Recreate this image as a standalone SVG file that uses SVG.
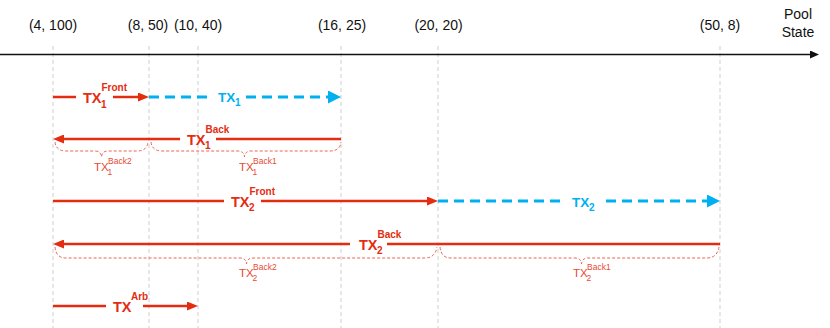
<svg xmlns="http://www.w3.org/2000/svg" width="830" height="328" viewBox="0 0 830 328">
<style>
.guide{stroke:#CFCFCF;stroke-width:1;stroke-dasharray:4 3;fill:none}
.axis{stroke:#111;stroke-width:1.5;fill:none}
.red{stroke:#E42C10;stroke-width:2.5;fill:none}
.blue{stroke:#00B0F0;stroke-width:3;fill:none;stroke-dasharray:10 6}
.brace{stroke:#EE6450;stroke-width:1;fill:none;stroke-dasharray:3 2}
.coord{font-family:"Liberation Sans",Arial,sans-serif;font-size:14px;fill:#111;text-anchor:middle}
.lr{font-family:"Liberation Sans",Arial,sans-serif;font-weight:bold;font-size:14.5px;fill:#E42C10}
.lb{font-family:"Liberation Sans",Arial,sans-serif;font-weight:bold;font-size:13.5px;fill:#00B0F0}
.sm{font-size:10px}
.bl{font-family:"Liberation Sans",Arial,sans-serif;font-size:11.5px;fill:#E84A32}
.bs{font-size:8.5px}
</style>
<defs>
<marker id="ar" markerUnits="userSpaceOnUse" markerWidth="11" markerHeight="9" refX="3" refY="4.5" orient="auto"><path d="M0,0 L11,4.5 L0,9 z" fill="#E42C10"/></marker>
<marker id="ab" markerUnits="userSpaceOnUse" markerWidth="13" markerHeight="13" refX="3" refY="6.5" orient="auto"><path d="M0,0 L13,6.5 L0,13 z" fill="#00B0F0"/></marker>
<marker id="ak" markerUnits="userSpaceOnUse" markerWidth="9" markerHeight="8" refX="2" refY="4" orient="auto"><path d="M0,0 L9,4 L0,8 z" fill="#111"/></marker>
</defs>
<g id="guides">
<line class="guide" x1="53" y1="46" x2="53" y2="328"/>
<line class="guide" x1="149" y1="46" x2="149" y2="328"/>
<line class="guide" x1="198" y1="46" x2="198" y2="328"/>
<line class="guide" x1="341" y1="46" x2="341" y2="328"/>
<line class="guide" x1="438" y1="46" x2="438" y2="328"/>
<line class="guide" x1="720" y1="46" x2="720" y2="328"/>
</g>
<g id="axis">
<line class="axis" x1="0" y1="54.5" x2="812" y2="54.5" marker-end="url(#ak)"/>
<text class="coord" x="53" y="30">(4, 100)</text>
<text class="coord" x="148" y="30">(8, 50)</text>
<text class="coord" x="198" y="30">(10, 40)</text>
<text class="coord" x="342" y="30">(16, 25)</text>
<text class="coord" x="438.5" y="30">(20, 20)</text>
<text class="coord" x="720" y="30">(50, 8)</text>
<text class="coord" x="798" y="19">Pool</text>
<text class="coord" x="798" y="37">State</text>
</g>
<g id="connectors">
<path class="red" d="M53,97 H76 M113,97 H141" marker-end="url(#ar)"/>
<path class="blue" d="M149,97 H211"/>
<path class="blue" d="M246,97 H331" marker-end="url(#ab)"/>
<path class="red" d="M341,139 H216"/>
<path class="red" d="M180,139 H61" marker-end="url(#ar)"/>
<path class="red" d="M53,201 H224"/>
<path class="red" d="M261,201 H430" marker-end="url(#ar)"/>
<path class="blue" d="M438,201 H562"/>
<path class="blue" d="M606,201 H710" marker-end="url(#ab)"/>
<path class="red" d="M720,244 H387"/>
<path class="red" d="M350,244 H61" marker-end="url(#ar)"/>
<path class="red" d="M53,306 H106"/>
<path class="red" d="M143,306 H190" marker-end="url(#ar)"/>
</g>
<g id="braces">
<path class="brace" d="M55,142 Q56,151 66,151 H95 Q101,151 101.5,157 Q102,151 108,151 H137 Q147,151 148,142"/>
<path class="brace" d="M151,142 Q152,151 162,151 H238 Q244,151 244.5,157 Q245,151 251,151 H330 Q340,151 341,142"/>
<path class="brace" d="M55,247 Q56,258 66,258 H240 Q246,258 246.5,264 Q247,258 253,258 H425 Q435,258 437,247"/>
<path class="brace" d="M440,247 Q441,258 451,258 H575 Q581,258 581.5,264 Q582,258 588,258 H707 Q717,258 719,247"/>
</g>
<g id="tx1-front"><text class="lr" x="83" y="103">TX<tspan class="sm" x="101" y="107.5">1</tspan><tspan class="sm" x="101.5" y="91">Front</tspan></text></g>
<g id="tx1"><text class="lb" x="218" y="102">TX<tspan class="sm" x="235" y="106">1</tspan></text></g>
<g id="tx1-back"><text class="lr" x="187" y="144.5">TX<tspan class="sm" x="205" y="149">1</tspan><tspan class="sm" x="205.5" y="133">Back</tspan></text></g>
<g id="tx1-back2"><text class="bl" x="94" y="171">TX<tspan class="bs" x="107.5" y="175">1</tspan><tspan class="bs" x="108" y="164">Back2</tspan></text></g>
<g id="tx1-back1"><text class="bl" x="239" y="171">TX<tspan class="bs" x="252.5" y="175">1</tspan><tspan class="bs" x="253" y="164">Back1</tspan></text></g>
<g id="tx2-front"><text class="lr" x="231" y="206.5">TX<tspan class="sm" x="249" y="211">2</tspan><tspan class="sm" x="249.5" y="195">Front</tspan></text></g>
<g id="tx2"><text class="lb" x="572" y="207">TX<tspan class="sm" x="589" y="211">2</tspan></text></g>
<g id="tx2-back"><text class="lr" x="359" y="249.5">TX<tspan class="sm" x="377" y="254">2</tspan><tspan class="sm" x="377.5" y="238">Back</tspan></text></g>
<g id="tx2-back2"><text class="bl" x="239" y="277">TX<tspan class="bs" x="252.5" y="281">2</tspan><tspan class="bs" x="253" y="270">Back2</tspan></text></g>
<g id="tx2-back1"><text class="bl" x="573" y="277">TX<tspan class="bs" x="586.5" y="281">2</tspan><tspan class="bs" x="587" y="270">Back1</tspan></text></g>
<g id="tx-arb"><text class="lr" x="113" y="311.5">TX<tspan class="sm" x="131" y="300">Arb</tspan></text></g>
</svg>
